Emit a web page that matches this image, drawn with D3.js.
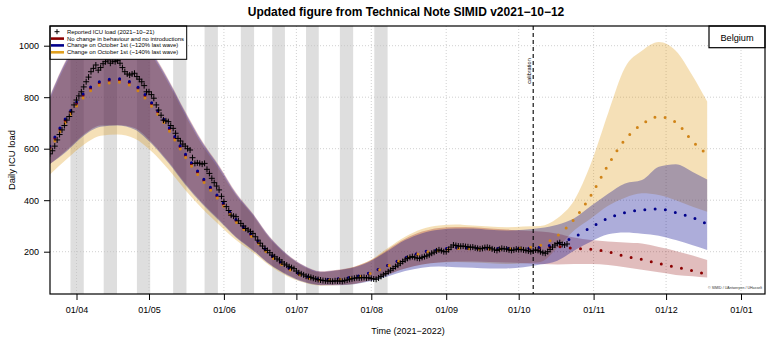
<!DOCTYPE html>
<html>
<head>
<meta charset="utf-8">
<script src="https://cdn.jsdelivr.net/npm/d3@7"></script>
<style>
  body { margin: 0; background: #fff; }
  svg { display: block; font-family: "Liberation Sans", Arial, sans-serif; }
</style>
</head>
<body>
<svg id="chart" width="770" height="346"></svg>
<script>
// ---- data ----
const reportedStart = "2021-03-21";
const reported = [
  580, 592, 610, 634, 655, 673, 690, 711, 725, 743, 770,
  789, 805, 821, 840, 860, 878, 899, 912, 925, 905, 915, 930, 938, 945, 932, 940, 938, 942, 932, 915,
  899, 890, 886, 890, 893, 880, 870, 860, 845, 821,
  821, 810, 796, 770, 750, 730, 711, 708, 705, 690, 679, 660, 640, 630, 618, 610, 600, 595, 565, 543,
  545, 543, 540, 543, 520, 504, 485, 468, 455, 440, 415,
  395, 375, 360, 342, 338, 336, 320, 310, 300, 290, 284, 278, 271, 258, 245, 233, 222, 212, 205, 196,
  187, 180, 172, 168, 160, 152, 148, 142, 138, 134,
  125, 118, 114, 110, 105, 103, 100, 97, 94, 92, 90, 88, 87, 86, 86, 85, 87, 86, 86, 85,
  88, 90, 93, 95, 97, 99, 98, 99, 100, 98, 99,
  96, 94, 93, 98, 104, 110, 115, 122, 128, 135, 142, 148, 155, 162, 168, 174, 178, 181, 178, 175,
  174, 178, 181, 184, 188, 194, 198, 203, 207, 204, 200,
  200, 208, 218, 226, 224, 222, 221, 222, 220, 219, 217, 218, 215, 213, 211, 213, 216, 217, 215, 211,
  207, 205, 209, 213, 211, 210, 207, 205, 207, 210,
  208, 209, 207, 205, 203, 200, 204, 207, 205, 200, 196, 194, 200, 209, 218, 226, 232, 235, 228, 226, 230
];

const modelDates = [
  "2021-03-21", "2021-03-28", "2021-04-04", "2021-04-11", "2021-04-18", "2021-04-25",
  "2021-05-02", "2021-05-09", "2021-05-16", "2021-05-23", "2021-05-30",
  "2021-06-06", "2021-06-13", "2021-06-20", "2021-06-27",
  "2021-07-04", "2021-07-11", "2021-07-18", "2021-07-25",
  "2021-08-01", "2021-08-08", "2021-08-15", "2021-08-22", "2021-08-29",
  "2021-09-05", "2021-09-12", "2021-09-19", "2021-09-26",
  "2021-10-03", "2021-10-10", "2021-10-17", "2021-10-24", "2021-10-31",
  "2021-11-07", "2021-11-14", "2021-11-21", "2021-11-28",
  "2021-12-05", "2021-12-12", "2021-12-18"
];

// no change in behaviour
const redMedian = [605, 720, 810, 858, 868, 846, 776, 684, 576, 486, 406, 322, 259, 190, 140, 106, 92, 94, 101, 119,
  147, 175, 197, 207, 214, 213, 211, 210, 212, 215, 220, 213, 209, 200, 182, 170, 154, 140, 126, 112];
const redLow = [540, 595, 655, 690, 692, 680, 625, 550, 465, 390, 325, 258, 208, 152, 112, 84, 71, 72, 76, 90,
  112, 135, 150, 158, 162, 162, 160, 158, 155, 152, 150, 152, 152, 148, 140, 130, 120, 110, 105, 100];
const redHigh = [805, 950, 1045, 1085, 1090, 1065, 980, 870, 745, 630, 535, 430, 348, 258, 192, 147, 124, 130, 142, 168,
  210, 250, 278, 292, 296, 295, 290, 286, 282, 278, 270, 255, 245, 240, 236, 232, 218, 203, 185, 168];

// ~120% last wave
const blueMedian = [610, 725, 815, 862, 872, 850, 780, 688, 580, 490, 410, 325, 262, 192, 142, 108, 93, 95, 102, 120,
  148, 176, 198, 208, 215, 214, 212, 212, 213, 218, 232, 257, 295, 330, 352, 362, 366, 352, 332, 308];
const blueLow = [540, 590, 650, 685, 690, 675, 620, 545, 460, 385, 320, 255, 205, 150, 110, 82, 70, 70, 74, 86,
  105, 125, 138, 143, 140, 138, 135, 135, 140, 150, 165, 205, 240, 268, 275, 270, 262, 245, 225, 207];
const blueHigh = [800, 945, 1040, 1080, 1085, 1060, 975, 865, 740, 625, 530, 425, 345, 255, 190, 145, 122, 128, 140, 165,
  205, 245, 272, 285, 290, 290, 285, 282, 285, 292, 305, 330, 378, 425, 465, 478, 530, 540, 510, 480];

// ~140% last wave
const orangeMedian = [595, 710, 800, 848, 858, 836, 766, 675, 568, 478, 400, 316, 254, 186, 137, 104, 90, 92, 99, 117,
  145, 173, 195, 205, 212, 211, 210, 211, 215, 225, 262, 326, 420, 537, 635, 695, 724, 703, 628, 578];
const orangeLow = [500, 560, 615, 650, 655, 640, 590, 520, 440, 368, 305, 245, 198, 145, 106, 80, 68, 70, 75, 90,
  112, 135, 150, 158, 160, 158, 155, 152, 155, 160, 215, 283, 330, 378, 410, 427, 420, 400, 375, 355];
const orangeHigh = [790, 935, 1030, 1070, 1075, 1050, 965, 855, 730, 615, 520, 418, 340, 250, 186, 142, 120, 128, 142, 170,
  215, 258, 288, 302, 306, 302, 298, 295, 298, 300, 330, 400, 545, 738, 915, 980, 1014, 980, 882, 783];

const shadedStart = ["2021-03-29T12", "2021-04-12T06", "2021-04-26T00", "2021-05-11T00", "2021-05-24T00",
  "2021-06-08T00", "2021-06-21T00", "2021-07-05T00", "2021-07-19T00", "2021-08-02T06"];
const shadedEnd = ["2021-04-04T00", "2021-04-17T18", "2021-05-01T12", "2021-05-16T12", "2021-05-29T12",
  "2021-06-13T12", "2021-06-26T06", "2021-07-10T06", "2021-07-24T12", "2021-08-07T18"];

const monthTicks = ["2021-04-01", "2021-05-01", "2021-06-01", "2021-07-01", "2021-08-01",
  "2021-09-01", "2021-10-01", "2021-11-01", "2021-12-01", "2022-01-01"];
const yTicks = [200, 400, 600, 800, 1000];
const calibrationDate = "2021-10-07";

const legendLabels = [
  "Reported ICU load (2021\u221210\u221221)",
  "No change in behaviour and no introductions",
  "Change on October 1st (~120% last wave)",
  "Change on October 1st (~140% last wave)"
];

// ---- setup ----
const chart = {};
chart.svg = d3.select("#chart");
chart.box = { left: 50, right: 765, top: 26, bottom: 294 };
chart.styles = {
  red: "#8b0000",
  blue: "#00008b",
  orange: "#e0a020",
  orangeDot: "#d08418",
  shaded: "#dedede",
  grid: "#c4c4c4"
};

const parseDay = d3.utcParse("%Y-%m-%d");
const parseHour = d3.utcParse("%Y-%m-%dT%H");

chart.scales = {};
chart.scales.x = d3.scaleUtc()
  .domain([parseDay("2021-04-01"), parseDay("2022-01-01")])
  .range([76.5, 741]);
chart.scales.y = d3.scaleLinear()
  .domain([0, 1000])
  .range([303.2, 45.7]);

const x = chart.scales.x, y = chart.scales.y, box = chart.box;

const dates = modelDates.map(parseDay);
const scenarios = [
  { key: "orange", med: orangeMedian, lo: orangeLow, hi: orangeHigh, fill: chart.styles.orange, dot: chart.styles.orangeDot, alpha: 0.32 },
  { key: "red", med: redMedian, lo: redLow, hi: redHigh, fill: chart.styles.red, dot: chart.styles.red, alpha: 0.26 },
  { key: "blue", med: blueMedian, lo: blueLow, hi: blueHigh, fill: chart.styles.blue, dot: chart.styles.blue, alpha: 0.32 }
];

chart.svg.append("defs").append("clipPath").attr("id", "plotClip")
  .append("rect")
  .attr("x", box.left).attr("y", box.top)
  .attr("width", box.right - box.left).attr("height", box.bottom - box.top);

const plot = chart.svg.append("g").attr("clip-path", "url(#plotClip)");

// shaded periods
plot.append("g").selectAll("rect")
  .data(shadedStart)
  .enter()
  .append("rect")
  .attr("x", d => x(parseHour(d)))
  .attr("width", (d, i) => x(parseHour(shadedEnd[i])) - x(parseHour(d)))
  .attr("y", box.top)
  .attr("height", box.bottom - box.top)
  .attr("fill", chart.styles.shaded);

// grid
plot.append("g").selectAll("line")
  .data(yTicks)
  .enter()
  .append("line")
  .attr("x1", box.left).attr("x2", box.right)
  .attr("y1", d => y(d)).attr("y2", d => y(d))
  .attr("stroke", chart.styles.grid)
  .attr("stroke-width", 0.8)
  .attr("stroke-dasharray", "1,2");

plot.append("g").selectAll("line")
  .data(monthTicks)
  .enter()
  .append("line")
  .attr("x1", d => x(parseDay(d))).attr("x2", d => x(parseDay(d)))
  .attr("y1", box.top).attr("y2", box.bottom)
  .attr("stroke", chart.styles.grid)
  .attr("stroke-width", 0.8)
  .attr("stroke-dasharray", "1,2");

// uncertainty bands
scenarios.forEach(s => {
  const area = d3.area()
    .x((d, i) => x(dates[i]))
    .y0((d, i) => y(s.lo[i]))
    .y1((d, i) => y(s.hi[i]))
    .curve(d3.curveMonotoneX);
  plot.append("path")
    .datum(dates)
    .attr("d", area)
    .attr("fill", s.fill)
    .attr("fill-opacity", s.alpha);
});

// medians, drawn as thick dotted lines
["red", "blue", "orange"].forEach(k => {
  const s = scenarios.find(d => d.key === k);
  const line = d3.line()
    .x((d, i) => x(dates[i]))
    .y((d, i) => y(s.med[i]))
    .curve(d3.curveMonotoneX);
  plot.append("path")
    .datum(dates)
    .attr("d", line)
    .attr("fill", "none")
    .attr("stroke", s.dot)
    .attr("stroke-width", 3)
    .attr("stroke-linecap", "round")
    .attr("stroke-dasharray", "0,10.3");
});

// reported ICU load
const start = parseDay(reportedStart);
plot.append("g").selectAll("path")
  .data(reported)
  .enter()
  .append("path")
  .attr("transform", (d, i) => "translate(" + x(d3.utcDay.offset(start, i)) + "," + y(d) + ")")
  .attr("d", "M-3,0H3M0,-3V3")
  .attr("stroke", "#000")
  .attr("stroke-width", 1)
  .attr("fill", "none");

// calibration marker
const xc = x(parseDay(calibrationDate));
chart.svg.append("line")
  .attr("x1", xc).attr("x2", xc)
  .attr("y1", box.top).attr("y2", box.bottom)
  .attr("stroke", "#000")
  .attr("stroke-width", 1.1)
  .attr("stroke-dasharray", "4,3");
chart.svg.append("text")
  .attr("transform", "translate(" + (xc - 2) + ",71) rotate(-90)")
  .attr("text-anchor", "middle")
  .attr("font-size", 5.6)
  .text("calibration");

// copyright
chart.svg.append("text")
  .attr("x", 762).attr("y", 289)
  .attr("text-anchor", "end")
  .attr("font-size", 3.6)
  .attr("fill", "#333")
  .text("\u00a9 SIMID / UAntwerpen / UHasselt");

// legend
const legend = chart.svg.append("g");
legend.append("rect")
  .attr("x", box.left).attr("y", box.top)
  .attr("width", 136.7).attr("height", 33.3)
  .attr("fill", "#fff")
  .attr("stroke", "#000")
  .attr("stroke-width", 1);
const legendY = [31.7, 38.6, 45.4, 52.3];
const legendColors = [null, chart.styles.red, chart.styles.blue, chart.styles.orange];
legendLabels.forEach((label, i) => {
  if (i === 0) {
    legend.append("path")
      .attr("transform", "translate(57," + legendY[i] + ")")
      .attr("d", "M-2.5,0H2.5M0,-2.5V2.5")
      .attr("stroke", "#000")
      .attr("stroke-width", 1);
  } else {
    legend.append("line")
      .attr("x1", 51).attr("x2", 64)
      .attr("y1", legendY[i]).attr("y2", legendY[i])
      .attr("stroke", legendColors[i])
      .attr("stroke-width", 2.6);
  }
  legend.append("text")
    .attr("x", 67).attr("y", legendY[i] + 2)
    .attr("font-size", 5.9)
    .text(label);
});

// country box
chart.svg.append("rect")
  .attr("x", 709).attr("y", box.top)
  .attr("width", box.right - 709).attr("height", 21.7)
  .attr("fill", "#fff")
  .attr("stroke", "#000")
  .attr("stroke-width", 1.2);
chart.svg.append("text")
  .attr("x", 737).attr("y", 40.5)
  .attr("text-anchor", "middle")
  .attr("font-size", 9.2)
  .text("Belgium");

// frame
chart.svg.append("rect")
  .attr("x", box.left).attr("y", box.top)
  .attr("width", box.right - box.left).attr("height", box.bottom - box.top)
  .attr("fill", "none")
  .attr("stroke", "#000")
  .attr("stroke-width", 1.2);

// axes
const xAxis = chart.svg.append("g")
  .attr("transform", "translate(0," + box.bottom + ")")
  .call(d3.axisBottom(x)
    .tickValues(monthTicks.map(parseDay))
    .tickFormat(d3.utcFormat("%d/%m"))
    .tickSize(6)
    .tickPadding(7));
const yAxis = chart.svg.append("g")
  .attr("transform", "translate(" + box.left + ",0)")
  .call(d3.axisLeft(y)
    .tickValues(yTicks)
    .tickFormat(d3.format("d"))
    .tickSize(6)
    .tickPadding(5));
[xAxis, yAxis].forEach(a => {
  a.select(".domain").remove();
  a.selectAll("text").attr("font-size", 9).attr("font-family", "Liberation Sans, Arial, sans-serif").attr("fill", "#000");
  a.selectAll("line").attr("stroke", "#000");
});

// titles
chart.svg.append("text")
  .attr("x", 406).attr("y", 16)
  .attr("text-anchor", "middle")
  .attr("font-size", 12)
  .attr("font-weight", "bold")
  .text("Updated figure from Technical Note SIMID v2021\u221210\u221212");
chart.svg.append("text")
  .attr("x", 408).attr("y", 334)
  .attr("text-anchor", "middle")
  .attr("font-size", 9)
  .text("Time (2021\u22122022)");
chart.svg.append("text")
  .attr("transform", "translate(15,160) rotate(-90)")
  .attr("text-anchor", "middle")
  .attr("font-size", 9.4)
  .text("Daily ICU load");
</script>
</body>
</html>
